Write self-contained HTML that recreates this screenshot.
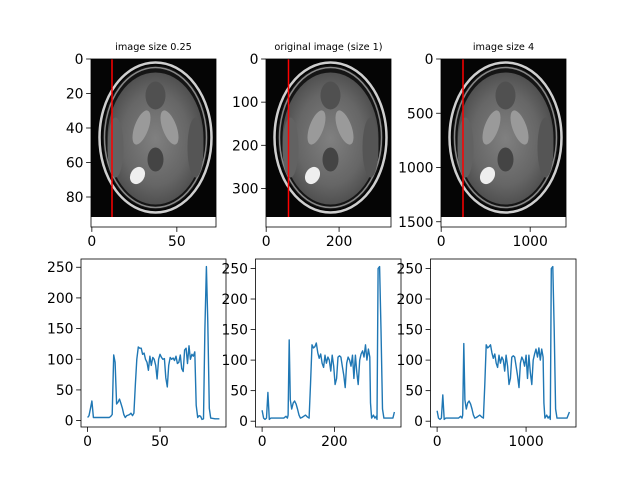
<!DOCTYPE html>
<html><head><meta charset="utf-8"><style>
html,body{margin:0;padding:0;background:#fff;}
svg{display:block;font-family:"DejaVu Sans","Liberation Sans",sans-serif;}
</style></head><body>
<svg id="fig" width="640" height="480" viewBox="0 0 640 480" xmlns="http://www.w3.org/2000/svg">
<rect width="640" height="480" fill="#fff"/>
<defs>
<radialGradient id="brainG" cx="50%" cy="50%" r="50%">
<stop offset="0" stop-color="#808080"/><stop offset="0.7" stop-color="#666"/><stop offset="1" stop-color="#505050"/>
</radialGradient>
</defs>
<g id="layer"></g>
</svg>
<script>
// profile data
const p1x = [0,1,2,3,4,8,12,15,16,17,18,19,20,21,22,23,24,25,26,27,28,29,30,31,32,33,34,35,36,37,38,39,40,41,42,43,44,45,46,47,48,49,50,51,52,53,54,55,56,57,58,59,60,61,62,63,64,65,66,67,68,69,70,71,72,73,74,75,76,77,78,79,80,81,82,83,84,85,88,91];
const p1y = [5,8,20,32,5,5,5,5,7,10,107,95,27,30,35,28,20,10,5,8,9,10,12,8,12,60,100,120,118,118,108,110,100,95,82,105,90,103,100,90,68,100,108,103,100,101,70,55,90,103,100,102,98,105,93,95,107,85,80,115,118,93,122,100,108,105,112,25,5,8,7,2,3,150,251,160,20,4,3,3];
const p2x = [0,4,8,12,16,20,24,40,60,66,70,72,75,78,82,86,90,94,98,102,106,110,115,120,125,130,134,138,142,146,150,154,158,162,166,170,174,178,182,186,190,194,198,202,206,210,214,218,222,226,230,234,238,242,246,250,254,258,262,266,270,274,278,282,286,290,294,298,300,303,308,312,316,318,321,325,329,333,337,350,362,366];
const p2y = [18,5,3,5,47,3,5,5,5,8,5,10,133,35,20,30,33,28,20,10,5,6,8,10,7,5,60,125,120,122,128,112,103,110,95,88,108,95,105,100,82,108,90,60,70,105,107,105,90,75,55,95,105,100,90,108,70,108,80,60,100,110,115,105,125,100,118,105,30,5,10,5,8,3,250,253,150,20,5,5,5,15];
const p3x = [0,16,32,48,64,80,96,160,240,264,280,288,300,312,328,344,360,376,392,408,424,440,460,480,500,520,536,552,568,584,600,616,632,648,664,680,696,712,728,744,760,776,792,808,824,840,856,872,888,904,920,936,952,968,984,1000,1016,1032,1048,1064,1080,1096,1112,1128,1144,1160,1176,1192,1200,1212,1232,1248,1264,1272,1284,1300,1316,1332,1348,1400,1460,1487];
const p3y = [17,5,3,5,43,3,5,5,5,8,5,10,127,35,20,30,33,28,20,10,5,6,8,10,7,5,60,125,120,122,125,112,103,110,95,88,108,95,105,100,82,108,90,60,70,105,107,105,90,75,55,95,105,100,90,108,70,108,80,60,100,110,118,105,120,100,118,105,30,5,10,5,8,3,250,253,150,20,5,5,5,15];
const plotYTicks = [0,50,100,150,200,250];
const p1XTicks = [0,50];
const p2XTicks = [0,200];
const p3XTicks = [0,1000];
const img1YTicks = [0,20,40,60,80], img1XTicks = [0,50];
const img2YTicks = [0,100,200,300], img2XTicks = [0,200];
const img3YTicks = [0,500,1000,1500], img3XTicks = [0,1000];
const titles = ["image size 0.25","original image (size 1)","image size 4"];

const NS="http://www.w3.org/2000/svg";
const layer=document.getElementById('layer');
function mk(tag,attrs,parent){const e=document.createElementNS(NS,tag);for(const k in attrs)e.setAttribute(k,attrs[k]);(parent||layer).appendChild(e);return e;}

function axisTicks(g,ax,xt,yt,xs,ys){
  xt.forEach(v=>{const x=xs(v);
    const t=mk('line',{x1:x,x2:x,y1:ax.y1,y2:ax.y1+4.9,stroke:'#000','stroke-width':0.8},g);
    
    
    const l=mk('text',{x:x,y:ax.y1+19,'font-size':13.9,'text-anchor':'middle',fill:'#000'},g);l.textContent=v;
    
    
  });
  yt.forEach(v=>{const y=ys(v);
    const t=mk('line',{x1:ax.x0-4.9,x2:ax.x0,y1:y,y2:y,stroke:'#000','stroke-width':0.8},g);
    
    
    const l=mk('text',{x:ax.x0-7.5,y:y+5,'font-size':13.9,'text-anchor':'end',fill:'#000'},g);l.textContent=v;
    
    
  });
}

// image panels
const imgAxes=[
 {x0:91,x1:216,y0:59,y1:227,imgBottom:217,xmin:-0.5,xpx:1.7,ypx:1.725,red:112,xt:img1XTicks,yt:img1YTicks},
 {x0:266,x1:391,y0:59,y1:227,imgBottom:217,xmin:-0.5,xpx:0.3645,ypx:0.4315,red:288.5,xt:img2XTicks,yt:img2YTicks},
 {x0:441,x1:566,y0:59,y1:227,imgBottom:217,xmin:-2,xpx:0.089,ypx:0.1085,red:463,xt:img3XTicks,yt:img3YTicks}
];
imgAxes.forEach((a,i)=>{
  const g=mk('g',{});
  
  
  const tt=mk('text',{x:(a.x0+a.x1)/2,y:a.y0-9,'font-size':9.7,'text-anchor':'middle',fill:'#000'},g);
  tt.textContent=titles[i];
  
  
  mk('rect',{x:a.x0,y:a.y0,width:a.x1-a.x0,height:a.imgBottom-a.y0,fill:'#050505'},g);
  const cx=a.x0+64.5, cy=137.5;
  mk('ellipse',{cx:cx,cy:cy,rx:56,ry:75,fill:'none',stroke:'#cfcfcf','stroke-width':2.5},g);
  mk('ellipse',{cx:cx,cy:cy,rx:53,ry:72,fill:'#151515'},g);
  mk('ellipse',{cx:cx,cy:cy,rx:51,ry:70,fill:'none',stroke:'#888','stroke-width':1.5},g);
  mk('ellipse',{cx:cx,cy:cy+1,rx:48,ry:66,fill:'url(#brainG)'},g);
  mk('ellipse',{cx:cx-14,cy:cy-10,rx:7,ry:18,fill:'#9a9a9a',transform:`rotate(20 ${cx-14} ${cy-10})`},g);
  mk('ellipse',{cx:cx+14,cy:cy-10,rx:7,ry:18,fill:'#9a9a9a',transform:`rotate(-20 ${cx+14} ${cy-10})`},g);
  mk('ellipse',{cx:cx,cy:cy-42,rx:10,ry:14,fill:'#505050'},g);
  mk('ellipse',{cx:cx,cy:cy+22,rx:8,ry:12,fill:'#444'},g);
  mk('ellipse',{cx:cx-18,cy:cy+38,rx:7,ry:9,fill:'#eee',transform:`rotate(30 ${cx-18} ${cy+38})`},g);
  mk('ellipse',{cx:cx+40,cy:cy+10,rx:8,ry:30,fill:'#555'},g);
  mk('ellipse',{cx:cx-40,cy:cy+10,rx:8,ry:30,fill:'#626262'},g);
  mk('rect',{x:a.x0,y:a.imgBottom,width:a.x1-a.x0,height:a.y1-a.imgBottom,fill:'#fff'},g);
  const rl=mk('line',{x1:a.red,x2:a.red,y1:a.y0,y2:a.imgBottom,stroke:'#ff0000','stroke-width':1.5},g);
  
  
  mk('rect',{x:a.x0,y:a.y0,width:a.x1-a.x0,height:a.y1-a.y0,fill:'none',stroke:'#000','stroke-width':0.8},g);
  const xs=v=>a.x0+(v-a.xmin)*a.xpx, ys=v=>a.y0+v*a.ypx;
  axisTicks(g,a,a.xt,a.yt,xs,ys);
});

// line plots
const plots=[{x0:81,x1:226,xs:p1x,ys:p1y,xt:p1XTicks},{x0:255.5,x1:401,xs:p2x,ys:p2y,xt:p2XTicks},{x0:430.5,x1:576,xs:p3x,ys:p3y,xt:p3XTicks}];
plots.forEach((p,i)=>{
  const a={x0:p.x0,x1:p.x1,y0:259,y1:427};
  const g=mk('g',{});
  
  
  const xmin=Math.min(...p.xs),xmax=Math.max(...p.xs),xr=xmax-xmin;
  const lo=xmin-0.05*xr,hi=xmax+0.05*xr;
  const ymin=Math.min(...p.ys),ymax=Math.max(...p.ys),yr=ymax-ymin;
  const ylo=ymin-0.05*yr,yhi=ymax+0.05*yr;
  const X=v=>a.x0+(v-lo)/(hi-lo)*(a.x1-a.x0);
  const Y=v=>a.y1-(v-ylo)/(yhi-ylo)*(a.y1-a.y0);
  const pts=p.xs.map((x,k)=>X(x).toFixed(1)+','+Y(p.ys[k]).toFixed(1)).join(' ');
  const pl=mk('polyline',{points:pts,fill:'none',stroke:'#1f77b4','stroke-width':1.4,'stroke-linejoin':'round'},g);
  
  
  mk('rect',{x:a.x0,y:a.y0,width:a.x1-a.x0,height:a.y1-a.y0,fill:'none',stroke:'#000','stroke-width':0.8},g);
  axisTicks(g,a,p.xt,plotYTicks,X,Y);
});
</script>
</body></html>
